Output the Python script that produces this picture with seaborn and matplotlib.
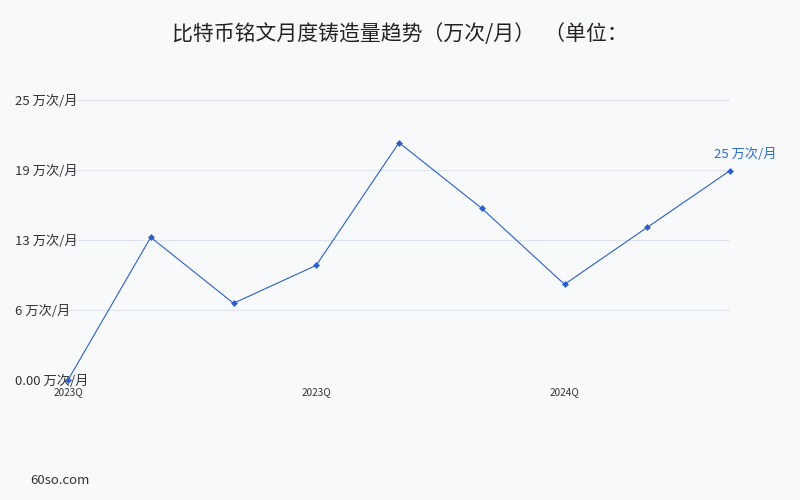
import matplotlib
matplotlib.use("Agg")
import matplotlib.pyplot as plt
import seaborn as sns
import pandas as pd

# ---- data ----
period_index = [0, 1, 2, 3, 4, 5, 6, 7, 8]
mint_values = [0.0, 12.74, 6.85, 10.24, 21.19, 15.33, 8.54, 13.63, 18.69]
x_tick_pos = [0, 3, 6]
x_tick_labels = ["2023Q", "2023Q", "2024Q"]
y_ticks = [0, 6.25, 12.5, 18.75, 25]
y_tick_labels = ["0.00 万次/月", "6 万次/月", "13 万次/月", "19 万次/月", "25 万次/月"]
end_label = "25 万次/月"
title = "比特币铭文月度铸造量趋势（万次/月）  （单位："
footer = "60so.com"

sns.set_theme(style="white")
plt.rcParams['font.family'] = ['Noto Sans CJK SC', 'DejaVu Sans']

bg = "#f8f9fb"
line_color = "#2d5fcc"

df = pd.DataFrame({"idx": period_index, "val": mint_values})

fig = plt.figure(figsize=(8, 5), dpi=100, facecolor=bg)
ax = fig.add_axes([0.085, 0.24, 0.8275, 0.56])
ax.set_facecolor(bg)

sns.lineplot(data=df, x="idx", y="val", ax=ax, color=line_color, linewidth=0.8,
             marker="D", markersize=3.5, markeredgewidth=0, clip_on=False)

ax.set_xlim(0, 8)
ax.set_ylim(0, 25)
ax.set_yticks(y_ticks)
ax.set_yticklabels(y_tick_labels, ha="left", fontsize=9.5, color="#333333")
ax.tick_params(axis="y", length=0, pad=38)
ax.set_xticks(x_tick_pos)
ax.set_xticklabels(x_tick_labels, fontsize=7.2, color="#333333")
ax.tick_params(axis="x", length=0, pad=5)
ax.grid(axis="y", color="#dfe4ee", linewidth=0.8)
ax.set_axisbelow(True)
for s in ax.spines.values():
    s.set_visible(False)
ax.set_xlabel("")
ax.set_ylabel("")

ax.annotate(end_label, xy=(period_index[-1], mint_values[-1]), xytext=(11, 7),
            textcoords="offset points", ha="center", va="bottom",
            fontsize=9.5, color="#2d6bd0", annotation_clip=False)

fig.text(0.5, 0.933, title, ha="center", va="center", fontsize=15, color="#222222")
fig.text(0.0375, 0.04, footer, ha="left", va="center", fontsize=9.5, color="#333333")

fig.savefig("out.png", dpi=100, facecolor=bg)
